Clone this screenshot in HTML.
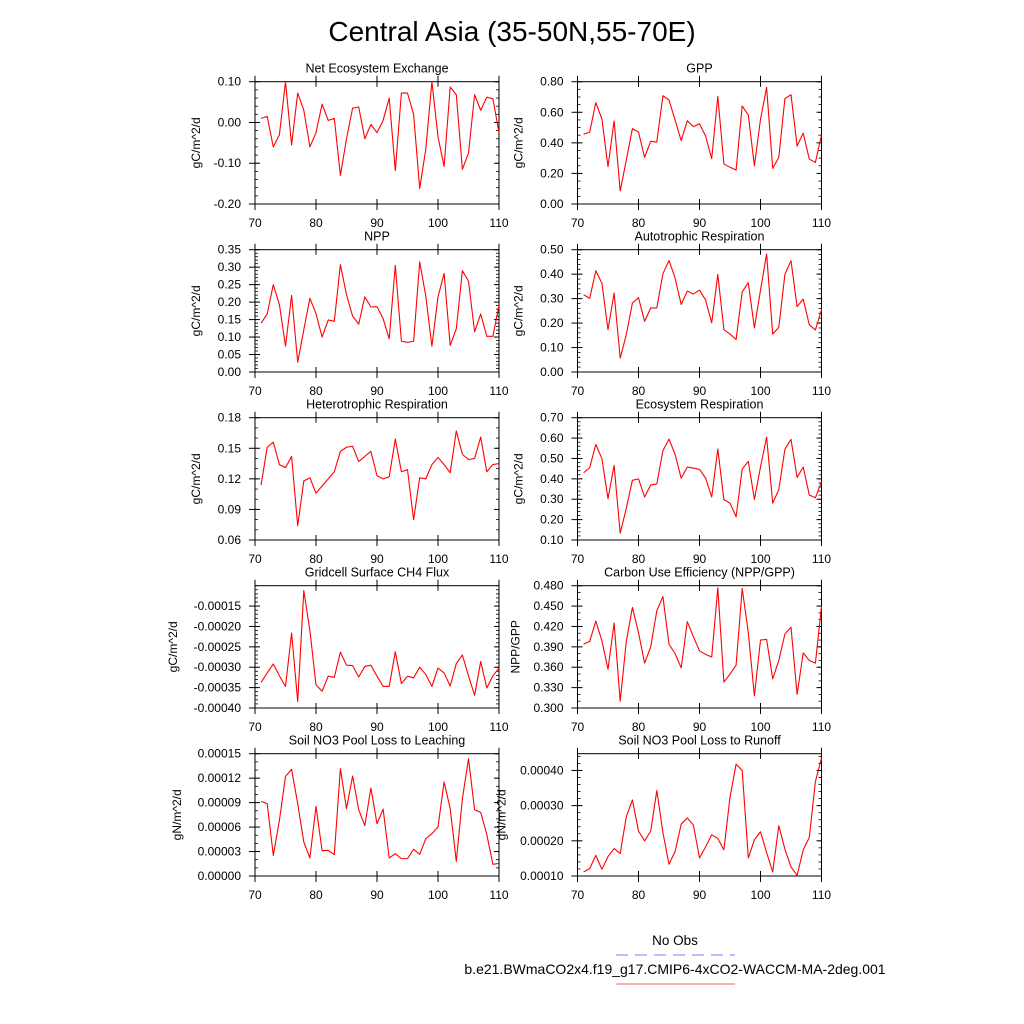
<!DOCTYPE html>
<html><head><meta charset="utf-8"><style>
html,body{margin:0;padding:0;background:#fff;}
svg{display:block;font-family:"Liberation Sans",Arial,sans-serif;}
</style></head><body>
<svg id="chart" width="1024" height="1024" viewBox="0 0 1024 1024">
<text x="512" y="41" font-size="28" text-anchor="middle">Central Asia (35-50N,55-70E)</text>
<g id="panels"></g>
<text x="675" y="945" font-size="13.5" text-anchor="middle">No Obs</text>
<line x1="616" y1="955" x2="735" y2="955" stroke="#6f7fff" stroke-width="1" stroke-dasharray="12,7"/>
<text x="675" y="974" font-size="14" text-anchor="middle">b.e21.BWmaCO2x4.f19_g17.CMIP6-4xCO2-WACCM-MA-2deg.001</text>
<line x1="616" y1="984" x2="735" y2="984" stroke="#f06060" stroke-width="1"/>
</svg>
<script>
const years = [];
for (let y = 71; y <= 110; y++) years.push(y);
const xTicks = [70, 80, 90, 100, 110];
const neeVals = [0.01,0.015,-0.06,-0.03,0.1,-0.055,0.072,0.03,-0.06,-0.025,0.045,0.005,0.01,-0.13,-0.04,0.035,0.038,-0.04,-0.005,-0.025,0.005,0.06,-0.118,0.072,0.072,0.02,-0.162,-0.065,0.1,-0.035,-0.108,0.087,0.068,-0.115,-0.075,0.068,0.03,0.062,0.058,-0.025];
const gppVals = [0.456,0.47,0.663,0.556,0.244,0.543,0.085,0.288,0.493,0.47,0.305,0.41,0.405,0.708,0.68,0.549,0.414,0.545,0.506,0.525,0.445,0.296,0.704,0.262,0.24,0.222,0.641,0.582,0.25,0.554,0.763,0.233,0.305,0.689,0.715,0.379,0.464,0.294,0.272,0.451];
const nppVals = [0.140,0.166,0.250,0.193,0.074,0.219,0.028,0.121,0.211,0.167,0.100,0.149,0.145,0.307,0.221,0.160,0.137,0.215,0.186,0.187,0.153,0.095,0.305,0.088,0.085,0.088,0.315,0.217,0.074,0.215,0.282,0.076,0.124,0.290,0.260,0.115,0.166,0.102,0.102,0.191];
const arVals = [0.316,0.301,0.414,0.363,0.173,0.323,0.057,0.153,0.282,0.304,0.207,0.262,0.262,0.402,0.456,0.384,0.276,0.331,0.319,0.335,0.294,0.201,0.399,0.173,0.155,0.133,0.328,0.365,0.180,0.335,0.482,0.155,0.183,0.399,0.455,0.267,0.298,0.193,0.172,0.255];
const hrVals = [0.114,0.151,0.156,0.134,0.131,0.142,0.074,0.118,0.121,0.106,0.113,0.120,0.127,0.147,0.151,0.152,0.137,0.142,0.147,0.123,0.120,0.122,0.159,0.127,0.129,0.080,0.121,0.120,0.134,0.141,0.134,0.126,0.167,0.144,0.139,0.140,0.161,0.127,0.134,0.135];
const erVals = [0.430,0.455,0.569,0.499,0.303,0.466,0.134,0.256,0.393,0.400,0.311,0.370,0.375,0.538,0.595,0.520,0.403,0.458,0.453,0.446,0.404,0.311,0.546,0.298,0.281,0.214,0.448,0.486,0.299,0.458,0.605,0.281,0.347,0.545,0.594,0.407,0.458,0.321,0.307,0.386];
const ch4Vals = [-33.7,-31.4,-29.2,-32.1,-34.7,-21.6,-38.4,-11.2,-21.0,-34.3,-35.9,-32.2,-32.5,-26.3,-29.5,-29.6,-32.4,-29.8,-29.5,-32.2,-34.7,-34.7,-26.2,-34.0,-32.2,-32.6,-30.0,-31.8,-34.7,-30.2,-31.4,-34.6,-29.1,-27.0,-32.1,-36.9,-28.6,-35.1,-32.1,-30.2].map(v => v * 1e-5);
const cueVals = [0.394,0.398,0.428,0.399,0.357,0.425,0.310,0.398,0.448,0.411,0.366,0.390,0.443,0.464,0.394,0.380,0.359,0.427,0.405,0.384,0.379,0.375,0.477,0.338,0.350,0.363,0.476,0.411,0.318,0.400,0.401,0.343,0.370,0.409,0.419,0.320,0.381,0.370,0.366,0.450];
const leachVals = [9.15,8.87,2.53,6.82,12.22,13.08,8.87,4.17,2.21,8.54,3.11,3.15,2.62,13.16,8.26,12.26,8.13,6.17,10.79,6.41,8.21,2.21,2.74,2.13,2.13,3.27,2.66,4.58,5.19,6.01,11.53,8.26,1.80,9.48,14.38,8.13,7.80,5.07,1.43,1.55].map(v => v * 1e-5);
const runoffVals = [11.14,12.10,15.90,11.90,15.52,17.81,16.38,26.86,31.62,22.76,20.0,22.76,34.29,22.38,13.33,16.95,24.76,26.48,24.48,15.14,18.29,21.71,20.67,17.43,32.38,41.81,40.0,15.14,20.29,22.57,16.67,11.14,24.29,17.62,12.57,10.19,17.43,20.95,36.86,43.52].map(v => v * 1e-5);

const neeTicks = ["-0.20","-0.10","0.00","0.10"];
const gppTicks = ["0.00","0.20","0.40","0.60","0.80"];
const nppTicks = ["0.00","0.05","0.10","0.15","0.20","0.25","0.30","0.35"];
const arTicks = ["0.00","0.10","0.20","0.30","0.40","0.50"];
const hrTicks = ["0.06","0.09","0.12","0.15","0.18"];
const erTicks = ["0.10","0.20","0.30","0.40","0.50","0.60","0.70"];
const ch4Ticks = ["-0.00040","-0.00035","-0.00030","-0.00025","-0.00020","-0.00015"];
const cueTicks = ["0.300","0.330","0.360","0.390","0.420","0.450","0.480"];
const leachTicks = ["0.00000","0.00003","0.00006","0.00009","0.00012","0.00015"];
const runoffTicks = ["0.00010","0.00020","0.00030","0.00040"];

const panels = [
 {name:"net-ecosystem-exchange", title:"Net Ecosystem Exchange", unit:"gC/m^2/d", vals:neeVals, ticks:neeTicks, ymin:-0.2, ymax:0.1, minor:0.02, col:0, row:0, toff:55},
 {name:"gpp", title:"GPP", unit:"gC/m^2/d", vals:gppVals, ticks:gppTicks, ymin:0, ymax:0.8, minor:0.05, col:1, row:0, toff:55},
 {name:"npp", title:"NPP", unit:"gC/m^2/d", vals:nppVals, ticks:nppTicks, ymin:0, ymax:0.35, minor:0.01, col:0, row:1, toff:55},
 {name:"autotrophic-respiration", title:"Autotrophic Respiration", unit:"gC/m^2/d", vals:arVals, ticks:arTicks, ymin:0, ymax:0.5, minor:0.02, col:1, row:1, toff:55},
 {name:"heterotrophic-respiration", title:"Heterotrophic Respiration", unit:"gC/m^2/d", vals:hrVals, ticks:hrTicks, ymin:0.06, ymax:0.18, minor:0.01, col:0, row:2, toff:55},
 {name:"ecosystem-respiration", title:"Ecosystem Respiration", unit:"gC/m^2/d", vals:erVals, ticks:erTicks, ymin:0.1, ymax:0.7, minor:0.02, col:1, row:2, toff:55},
 {name:"ch4-flux", title:"Gridcell Surface CH4 Flux", unit:"gC/m^2/d", vals:ch4Vals, ticks:ch4Ticks, ymin:-0.0004, ymax:-0.0001, minor:0.00001, col:0, row:3, toff:78},
 {name:"carbon-use-efficiency", title:"Carbon Use Efficiency (NPP/GPP)", unit:"NPP/GPP", vals:cueVals, ticks:cueTicks, ymin:0.3, ymax:0.48, minor:0.01, col:1, row:3, toff:58},
 {name:"no3-leaching", title:"Soil NO3 Pool Loss to Leaching", unit:"gN/m^2/d", vals:leachVals, ticks:leachTicks, ymin:0, ymax:0.00015, minor:0.00001, col:0, row:4, toff:74},
 {name:"no3-runoff", title:"Soil NO3 Pool Loss to Runoff", unit:"gN/m^2/d", vals:runoffVals, ticks:runoffTicks, ymin:0.0001, ymax:0.0004476, minor:0.00002, col:1, row:4, toff:72}
];

const NS = "http://www.w3.org/2000/svg";
const root = document.getElementById("panels");
function mk(tag, attrs, parent) {
  const e = document.createElementNS(NS, tag);
  for (const k in attrs) e.setAttribute(k, attrs[k]);
  parent.appendChild(e);
  return e;
}
const colX = [255, 577.5];
const PW = 244, PH = 122.3;
const rowY = [81.7, 249.7, 417.7, 585.7, 753.7];

panels.forEach(p => {
  const x0 = colX[p.col], y0 = rowY[p.row];
  const g = mk("g", {}, root);
  
  
  const xs = v => x0 + (v - 70) / 40 * PW;
  const ys = v => y0 + PH - (v - p.ymin) / (p.ymax - p.ymin) * PH;
  const frame = mk("rect", {x:x0, y:y0, width:PW, height:PH, fill:"none", stroke:"#000", "stroke-width":1}, g);
  
  
  const t = mk("text", {x:x0 + PW/2, y:y0 - 9, "font-size":12.5, "text-anchor":"middle"}, g);
  t.textContent = p.title;
  
  
  const span = p.ymax - p.ymin;
  const nMinor = Math.floor(span / p.minor + 1e-6);
  for (let i = 0; i <= nMinor; i++) {
    const yy = ys(p.ymin + i * p.minor);
    mk("line", {x1:x0, y1:yy, x2:x0 + 3, y2:yy, stroke:"#000", "stroke-width":0.8}, g);
    mk("line", {x1:x0 + PW, y1:yy, x2:x0 + PW - 3, y2:yy, stroke:"#000", "stroke-width":0.8}, g);
  }
  p.ticks.forEach(lbl => {
    const v = parseFloat(lbl);
    const yy = ys(v);
    mk("line", {x1:x0 - 6, y1:yy, x2:x0 + 5, y2:yy, stroke:"#000", "stroke-width":1}, g);
    mk("line", {x1:x0 + PW, y1:yy, x2:x0 + PW - 5, y2:yy, stroke:"#000", "stroke-width":1}, g);
    const tl = mk("text", {x:x0 - 14, y:yy + 4, "font-size":12, "text-anchor":"end"}, g);
    tl.textContent = lbl;
    
    
  });
  xTicks.forEach(v => {
    const xx = xs(v);
    mk("line", {x1:xx, y1:y0 + PH + 6, x2:xx, y2:y0 + PH - 5, stroke:"#000", "stroke-width":1}, g);
    mk("line", {x1:xx, y1:y0 - 6, x2:xx, y2:y0 + 5, stroke:"#000", "stroke-width":1}, g);
    const tl = mk("text", {x:xx, y:y0 + PH + 23, "font-size":12, "text-anchor":"middle"}, g);
    tl.textContent = String(v);
    
    
  });
  const yt = mk("text", {x:0, y:0, "font-size":12, "text-anchor":"middle", transform:"translate(" + (x0 - p.toff) + "," + (y0 + PH/2) + ") rotate(-90)"}, g);
  yt.textContent = p.unit;
  
  
  const pts = p.vals.map((v, i) => xs(years[i]).toFixed(2) + "," + ys(v).toFixed(2)).join(" ");
  const line = mk("polyline", {points:pts, fill:"none", stroke:"#ff0000", "stroke-width":1.1, "stroke-linejoin":"round"}, g);
  
  
});
</script>
</body></html>
